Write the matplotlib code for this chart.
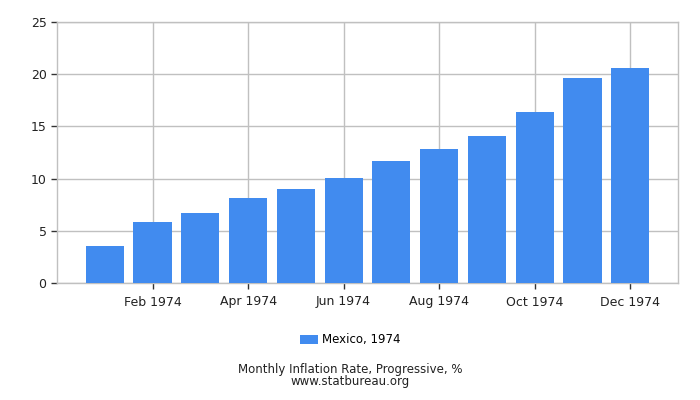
import matplotlib
matplotlib.use("Agg")
import matplotlib.pyplot as plt
from matplotlib.patches import Patch

months = ["Jan 1974", "Feb 1974", "Mar 1974", "Apr 1974", "May 1974", "Jun 1974",
          "Jul 1974", "Aug 1974", "Sep 1974", "Oct 1974", "Nov 1974", "Dec 1974"]
inflation = [3.58, 5.88, 6.74, 8.18, 9.04, 10.10, 11.73, 12.88, 14.12, 16.42, 19.68, 20.64]
series_label = "Mexico, 1974"
title = "Monthly Inflation Rate, Progressive, %"
source = "www.statbureau.org"

bar_color = "#418bef"
grid_color = "#c0c0c0"

fig = plt.figure(figsize=(7, 4), dpi=100)
ax = fig.add_axes([57 / 700, 1 - 283 / 400, (678 - 57) / 700, (283 - 22) / 400])

x = list(range(len(months)))
ax.bar(x, inflation, width=0.8, color=bar_color, zorder=3)

ax.set_xlim(-1, 12)
ax.set_ylim(0, 25)
ax.set_yticks([0, 5, 10, 15, 20, 25])
ax.set_xticks(x[1::2])
ax.set_xticklabels(months[1::2])
ax.tick_params(axis="both", labelsize=9, color="#333333", length=4, width=1, labelcolor="#222222")
ax.tick_params(axis="x", pad=5)

ax.grid(True, color=grid_color, linewidth=1, zorder=0)
ax.set_axisbelow(True)
for s in ax.spines.values():
    s.set_color(grid_color)
    s.set_linewidth(1)

handle = Patch(facecolor=bar_color, label=series_label)
fig.legend(handles=[handle], loc="center", bbox_to_anchor=(350 / 700, 1 - 340 / 400),
           frameon=False, fontsize=8.5, handlelength=1.6, handleheight=0.8, handletextpad=0.3)

fig.text(0.5, 1 - 370 / 400, title, ha="center", va="center", fontsize=8.5, color="#222222")
fig.text(0.5, 1 - 381.5 / 400, source, ha="center", va="center", fontsize=8.5, color="#222222")

fig.savefig("out.png", dpi=100)
